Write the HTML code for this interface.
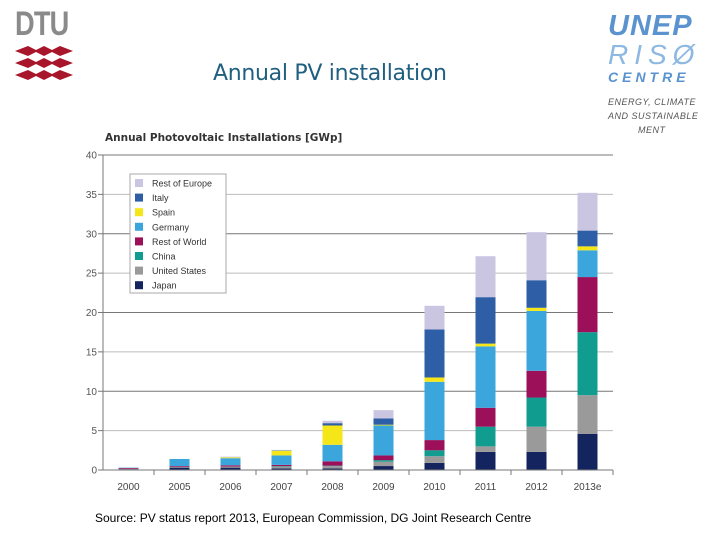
<!DOCTYPE html>
<html><head><meta charset="utf-8"><style>
body{margin:0;width:720px;height:540px;background:#fff;overflow:hidden;position:relative;font-family:"Liberation Sans",sans-serif}
.abs{position:absolute}
</style></head><body>
<div class="abs" style="left:12px;top:4px;width:64px;height:76px">
<div style="position:absolute;left:3px;top:1px;font:bold 34px 'Liberation Sans Narrow','Liberation Sans',sans-serif;color:#8a8a8a;letter-spacing:-1px;transform:scaleX(0.8);transform-origin:left">DTU</div>
<svg width="64" height="76" style="position:absolute;left:0;top:0">
<g fill="#a8162c">
<path d="M3,47 L16,42 L24,46 L32,42 L40,46 L48,42 L61,47 L48,52 L40,48 L32,52 L24,48 L16,52 Z"/>
<path d="M3,59 L16,54 L24,58 L32,54 L40,58 L48,54 L61,59 L48,64 L40,60 L32,64 L24,60 L16,64 Z"/>
<path d="M3,71 L16,66 L24,70 L32,66 L40,70 L48,66 L61,71 L48,76 L40,72 L32,76 L24,72 L16,76 Z"/>
</g></svg></div>
<div class="abs" style="left:608px;top:12px;width:110px;height:125px;font-style:italic">
<div style="font:italic bold 29px 'Liberation Sans',sans-serif;color:#5b93cf;line-height:29px;letter-spacing:1px">UNEP</div>
<div style="font:italic 28px 'Liberation Sans',sans-serif;color:#8cb8e2;line-height:28px;letter-spacing:6px">RISØ</div>
<div style="font:italic bold 14px 'Liberation Sans',sans-serif;color:#5b93cf;letter-spacing:4px;line-height:16px">CENTRE</div>
<div style="font:italic 9px 'Liberation Sans',sans-serif;color:#555;margin-top:10px;line-height:14px;letter-spacing:0.5px">ENERGY, CLIMATE<br>AND SUSTAINABLE<br>&nbsp;&nbsp;&nbsp;&nbsp;&nbsp;&nbsp;&nbsp;&nbsp;&nbsp;&nbsp;MENT</div>
</div>
<div class="abs" style="left:213px;top:61px;font:22px 'DejaVu Sans','Liberation Sans',sans-serif;color:#1f5f80;letter-spacing:-0.3px">Annual PV installation</div>
<div class="abs" style="left:95px;top:511px;font:12px 'Liberation Sans',sans-serif;color:#000">Source: PV status report 2013, European Commission, DG Joint Research Centre</div>
<svg id="chart" class="abs" style="left:0;top:0" width="720" height="540"></svg>
<script>
const categories=["2000","2005","2006","2007","2008","2009","2010","2011","2012","2013e"];
const seriesNames=["Japan","United States","China","Rest of World","Germany","Spain","Italy","Rest of Europe"];
const japan=[0.1,0.3,0.3,0.2,0.2,0.5,0.9,2.3,2.3,4.6];
const unitedStates=[0.05,0.1,0.15,0.25,0.3,0.55,0.85,0.7,3.2,4.9];
const china=[0,0,0,0.05,0.05,0.2,0.75,2.5,3.7,8.0];
const restOfWorld=[0.1,0.1,0.15,0.15,0.55,0.6,1.3,2.4,3.4,7.0];
const germany=[0.05,0.9,0.9,1.2,2.1,3.8,7.4,7.8,7.6,3.4];
const spain=[0,0,0.1,0.6,2.45,0.1,0.55,0.35,0.4,0.5];
const italy=[0,0,0,0.05,0.3,0.8,6.1,5.9,3.5,2.0];
const restOfEurope=[0,0,0.1,0.05,0.3,1.05,3.0,5.2,6.1,4.8];
const yTicks=[0,5,10,15,20,25,30,35,40];
const colors=["#14245e","#9a9a9a","#109c8f","#9b1059","#3aa6dc","#f5e61a","#2e5ea6","#cac6e2"];
const series=[japan,unitedStates,china,restOfWorld,germany,spain,italy,restOfEurope];
const NS="http://www.w3.org/2000/svg";
const svg=document.getElementById("chart");
const x0=103,x1=613,yBase=470,yTop=155,yMax=40;
function yScale(v){return yBase-(v/yMax)*(yBase-yTop);}
const step=(x1-x0)/categories.length;
function xCenter(i){return x0+step*(i+0.5);}
function mk(tag,attrs){const e=document.createElementNS(NS,tag);for(const k in attrs)e.setAttribute(k,attrs[k]);svg.appendChild(e);return e;}
let t=mk("text",{x:105,y:141,"font-size":"10.5","font-weight":"bold",fill:"#333","font-family":"DejaVu Sans, Liberation Sans, sans-serif"});
t.textContent="Annual Photovoltaic Installations [GWp]";


yTicks.forEach(v=>{
 const y=yScale(v);
 const g=mk("line",{x1:x0,x2:x1,y1:y,y2:y,stroke:(v%10===0)?"#777":"#bbb","stroke-width":1});
 
 
 mk("line",{x1:x0-5,x2:x0,y1:y,y2:y,stroke:"#777"});
 const l=mk("text",{x:97,y:y+3.5,"text-anchor":"end","font-size":"10",fill:"#555"});
 l.textContent=v;
 
 
});
const ax=mk("line",{x1:x0,x2:x0,y1:yTop,y2:yBase,stroke:"#777"});


const bw=20;
categories.forEach((c,i)=>{
 let cum=0;
 series.forEach((s,k)=>{
  const v=s[i]; if(v<=0)return;
  const r=mk("rect",{x:xCenter(i)-bw/2,y:yScale(cum+v),width:bw,height:yScale(cum)-yScale(cum+v),fill:colors[k]});
  
  
  cum+=v;
 });
 const l=mk("text",{x:xCenter(i),y:490,"text-anchor":"middle","font-size":"10",fill:"#444"});
 l.textContent=c;
 
 
 mk("line",{x1:x0+step*(i+1),x2:x0+step*(i+1),y1:yBase,y2:yBase+5,stroke:"#777"});
});
const bx=mk("line",{x1:x0,x2:x1,y1:yBase,y2:yBase,stroke:"#777"});


const lg=mk("rect",{x:130,y:174,width:96,height:119,fill:"#fff",stroke:"#aaa"});


for(let k=seriesNames.length-1,j=0;k>=0;k--,j++){
 const y=179+j*14.6;
 const sw=mk("rect",{x:135,y:y,width:8,height:8,fill:colors[k]});
 
 
 const tx=mk("text",{x:152,y:y+7.5,"font-size":"9",fill:"#333"});
 tx.textContent=seriesNames[k];
 
 
}
</script>
</body></html>
